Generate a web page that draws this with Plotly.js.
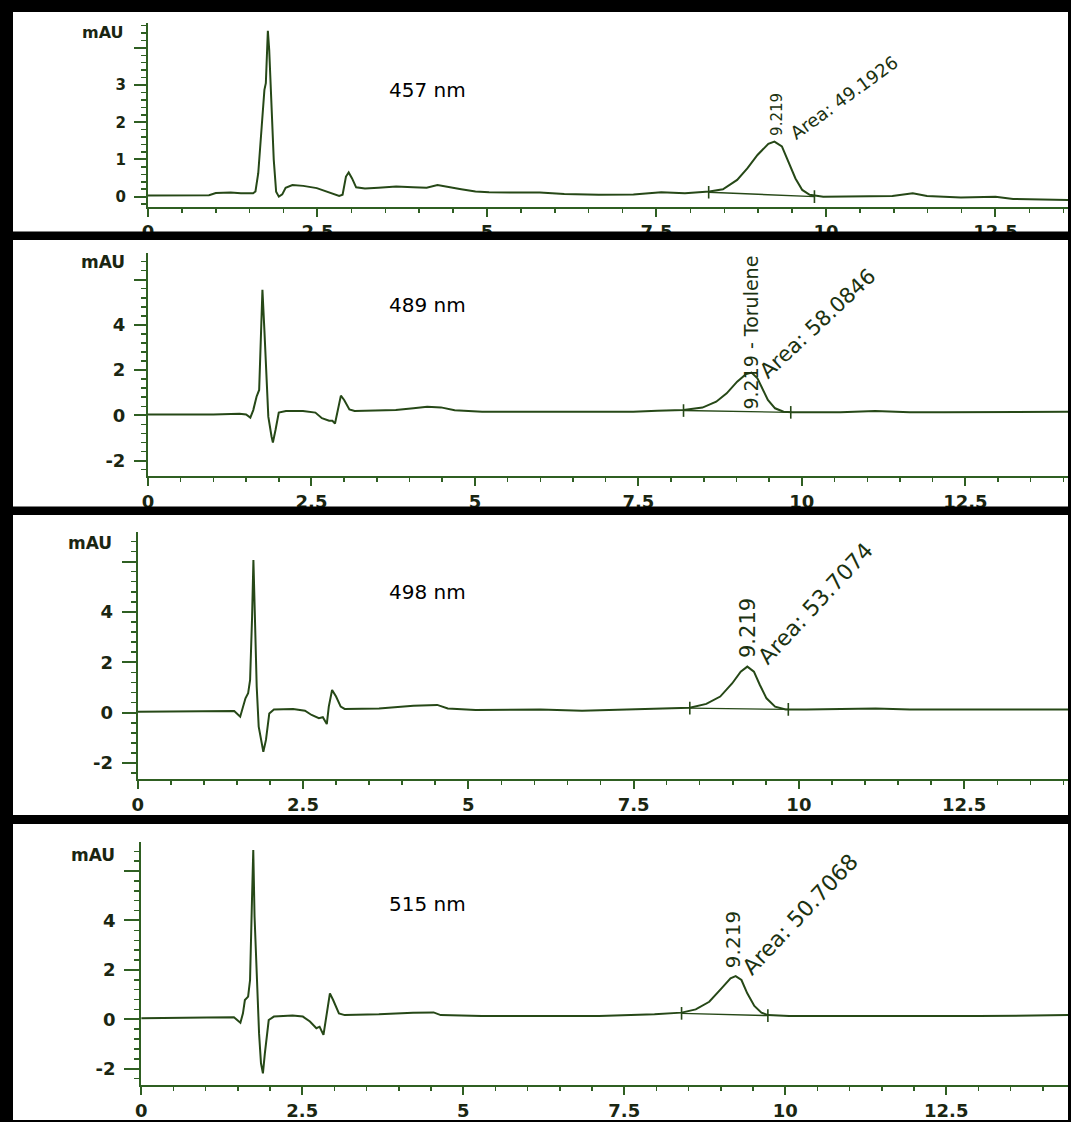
<!DOCTYPE html>
<html>
<head>
<meta charset="utf-8">
<script src="https://cdn.plot.ly/plotly-3.0.1.min.js"></script>
<style>html,body{margin:0;padding:0;background:#fff;}#chart{width:1071px;height:1122px;}</style>
</head>
<body>
<div id="chart"></div>
<script>
// ---------- data (retention time in min, absorbance in mAU) ----------
const t457 = [0,0.5,0.9,1.0,1.22,1.37,1.55,1.585,1.626,1.677,1.717,1.738,1.768,1.788,1.819,1.855,1.89,1.93,1.98,2.03,2.13,2.29,2.49,2.69,2.82,2.87,2.92,2.96,3.01,3.07,3.2,3.4,3.66,3.91,4.11,4.27,4.42,4.62,4.83,5.03,5.43,5.78,6.14,6.65,7.16,7.57,7.92,8.28,8.48,8.69,8.84,8.99,9.15,9.24,9.35,9.45,9.55,9.65,9.76,9.96,10.47,10.98,11.28,11.49,11.99,12.5,12.76,13.27,13.6];
const a457 = [0.03,0.03,0.04,0.10,0.11,0.09,0.09,0.14,0.63,1.88,2.87,3.05,4.46,3.94,2.33,0.99,0.13,0.0,0.06,0.24,0.31,0.29,0.23,0.11,0.02,0.05,0.54,0.65,0.49,0.25,0.22,0.24,0.27,0.25,0.24,0.31,0.27,0.20,0.14,0.12,0.11,0.11,0.07,0.05,0.06,0.12,0.09,0.14,0.20,0.45,0.76,1.12,1.42,1.48,1.35,0.94,0.49,0.18,0.05,0.0,0.0,0.02,0.09,0.02,-0.02,0.0,-0.06,-0.09,-0.09];

const t489 = [0,0.5,1.0,1.4,1.5,1.565,1.61,1.66,1.70,1.73,1.75,1.78,1.81,1.84,1.89,1.91,1.95,2.0,2.11,2.37,2.56,2.66,2.77,2.82,2.86,2.9,2.95,3.0,3.08,3.16,3.53,3.79,4.06,4.27,4.48,4.69,5.11,5.64,6.37,6.9,7.42,7.79,8.19,8.48,8.69,8.85,9.01,9.14,9.23,9.32,9.4,9.48,9.59,9.72,9.85,10.59,11.12,11.65,12.17,13.23,14.1];
const a489 = [0.03,0.03,0.04,0.07,0.04,-0.10,0.23,0.82,1.12,3.77,5.55,3.77,1.41,-0.06,-0.95,-1.20,-0.65,0.12,0.19,0.19,0.12,-0.13,-0.24,-0.24,-0.36,0.23,0.87,0.68,0.26,0.19,0.22,0.23,0.31,0.38,0.35,0.22,0.16,0.16,0.13,0.13,0.16,0.20,0.23,0.34,0.60,0.97,1.49,1.81,1.89,1.64,1.12,0.68,0.31,0.16,0.13,0.13,0.19,0.13,0.13,0.13,0.16];

const t498 = [0,0.52,1.04,1.46,1.55,1.59,1.63,1.67,1.70,1.73,1.75,1.77,1.80,1.83,1.88,1.90,1.94,1.99,2.06,2.35,2.53,2.63,2.74,2.80,2.86,2.89,2.94,3.0,3.07,3.13,3.65,4.17,4.53,4.69,5.11,5.73,6.09,6.72,7.4,8.02,8.35,8.6,8.81,8.99,9.12,9.22,9.32,9.41,9.51,9.64,9.8,10.11,11.16,11.68,12.72,14.1];
const a498 = [0.04,0.04,0.07,0.07,-0.16,0.17,0.57,0.77,1.30,3.81,6.06,4.07,1.03,-0.55,-1.35,-1.55,-1.08,-0.03,0.13,0.15,0.08,-0.09,-0.22,-0.18,-0.45,0.24,0.90,0.64,0.24,0.15,0.17,0.28,0.31,0.17,0.11,0.11,0.13,0.08,0.13,0.17,0.20,0.35,0.64,1.16,1.63,1.83,1.63,1.10,0.57,0.24,0.13,0.13,0.17,0.13,0.13,0.13];

const t515 = [0,0.48,1.02,1.44,1.54,1.58,1.61,1.66,1.69,1.72,1.74,1.76,1.80,1.83,1.86,1.89,1.92,1.98,2.06,2.35,2.51,2.62,2.72,2.77,2.83,2.88,2.93,2.98,3.07,3.16,3.69,4.22,4.54,4.65,5.29,6.19,7.11,7.97,8.39,8.61,8.82,9.01,9.15,9.23,9.32,9.41,9.52,9.63,9.73,10.06,11.4,13.0,14.42];
const a515 = [0.04,0.04,0.07,0.08,-0.14,0.24,0.78,0.92,1.59,4.83,6.85,4.16,1.05,-0.57,-1.78,-2.19,-1.38,-0.03,0.11,0.15,0.11,-0.09,-0.36,-0.30,-0.63,0.24,1.05,0.78,0.24,0.17,0.20,0.27,0.28,0.17,0.13,0.13,0.13,0.20,0.27,0.40,0.71,1.25,1.66,1.75,1.59,1.05,0.54,0.27,0.17,0.13,0.13,0.13,0.17];

// integration baselines (start, end)
const bt457 = [8.27, 9.83], ba457 = [0.12, 0.0];
const bt489 = [8.19, 9.83], ba489 = [0.21, 0.13];
const bt498 = [8.35, 9.84], ba498 = [0.18, 0.13];
const bt515 = [8.39, 9.73], ba515 = [0.24, 0.15];

// labels
const wavelengths = ['457 nm', '489 nm', '498 nm', '515 nm'];
const rtLabels = ['9.219', '9.219 - Torulene', '9.219', '9.219'];
const areaLabels = ['Area: 49.1926', 'Area: 58.0846', 'Area: 53.7074', 'Area: 50.7068'];
const xTickVals = [0, 2.5, 5, 7.5, 10, 12.5];
const yTickVals1 = [0, 1, 2, 3, 4];
const yTickText1 = ['0', '1', '2', '3', ''];
const yTickVals2 = [-2, 0, 2, 4, 6];
const yTickText2 = ['-2', '0', '2', '4', ''];

// ---------- layout geometry (pixels) ----------
const W = 1071, H = 1122;
const LINE = '#264817', AXIS = '#2f5f22', TXT = '#1a2612', LBL = '#1b3210';
const panels = [
  {t:t457, a:a457, bt:bt457, ba:ba457, xpx:[148,1068], ypx:[23.3,206.7], xr:[0,13.57], yr:[-0.27,4.66],
   yv:yTickVals1, ytx:yTickText1, ymin:0.2, yfs:15, ylen:12, mAU:{x:126, y:32.3, fs:16},
   nm:{x:387, y:90}, rt:{x:9.28, y:1.57, fs:15}, ar:{x:9.37, y:1.36, fs:18, ang:-36}},
  {t:t489, a:a489, bt:bt489, ba:ba489, xpx:[148,1068], ypx:[253.3,476], xr:[0,14.07], yr:[-2.686,7.168],
   yv:yTickVals2, ytx:yTickText2, ymin:0.4, yfs:18, ylen:12, mAU:{x:127, y:261.7, fs:17},
   nm:{x:387, y:305.5}, rt:{x:9.22, y:0.16, fs:19}, ar:{x:9.23, y:1.3, fs:21, ang:-43}},
  {t:t498, a:a498, bt:bt498, ba:ba498, xpx:[137.7,1068], ypx:[531.7,779.3], xr:[0,14.07], yr:[-2.643,7.183],
   yv:yTickVals2, ytx:yTickText2, ymin:0.4, yfs:18, ylen:14, mAU:{x:114, y:543.3, fs:17},
   nm:{x:387, y:591.7}, rt:{x:9.23, y:2.09, fs:21}, ar:{x:9.27, y:1.6, fs:22, ang:-47}},
  {t:t515, a:a515, bt:bt515, ba:ba515, xpx:[141.2,1068], ypx:[841.7,1085], xr:[0,14.39], yr:[-2.66,7.19],
   yv:yTickVals2, ytx:yTickText2, ymin:0.4, yfs:18, ylen:15, mAU:{x:117, y:855, fs:17},
   nm:{x:387, y:904}, rt:{x:9.2, y:2.0, fs:20}, ar:{x:9.21, y:1.5, fs:22, ang:-46.6}}
];

const traces = [];
const layout = {
  width: W, height: H, margin: {l:0, r:0, t:0, b:0},
  paper_bgcolor: '#ffffff', plot_bgcolor: 'rgba(0,0,0,0)',
  showlegend: false, annotations: [], shapes: []
};

panels.forEach((p, i) => {
  const n = i === 0 ? '' : String(i + 1);
  const xa = 'x' + n, ya = 'y' + n;
  traces.push({x: p.t, y: p.a, xaxis: xa, yaxis: ya, type: 'scatter', mode: 'lines',
               line: {color: LINE, width: 2}, hoverinfo: 'skip'});
  traces.push({x: p.bt, y: p.ba, xaxis: xa, yaxis: ya, type: 'scatter', mode: 'lines+markers',
               line: {color: LINE, width: 1.4},
               marker: {symbol: 'line-ns', size: 9, line: {color: LINE, width: 1.6}}, hoverinfo: 'skip'});
  layout['xaxis' + n] = {
    domain: [p.xpx[0] / W, p.xpx[1] / W], range: p.xr, anchor: ya,
    showline: true, linecolor: AXIS, linewidth: 2, showgrid: false, zeroline: false,
    tickmode: 'array', tickvals: xTickVals, ticks: 'outside', ticklen: 8, tickwidth: 2, tickcolor: AXIS,
    minor: {ticks: 'outside', ticklen: 4, tickwidth: 1.5, tickcolor: AXIS, tick0: 0, dtick: 0.5, showgrid: false},
    tickfont: {family: 'DejaVu Sans', size: 18, color: TXT, weight: 'bold'}, fixedrange: true
  };
  layout['yaxis' + n] = {
    domain: [1 - p.ypx[1] / H, 1 - p.ypx[0] / H], range: p.yr, anchor: xa,
    showline: true, linecolor: AXIS, linewidth: 2, showgrid: false, zeroline: false,
    tickmode: 'array', tickvals: p.yv, ticktext: p.ytx, ticks: 'outside', ticklen: p.ylen, tickwidth: 2, tickcolor: AXIS,
    minor: {ticks: 'outside', ticklen: 5, tickwidth: 1.5, tickcolor: AXIS, tick0: 0, dtick: p.ymin, showgrid: false},
    tickfont: {family: 'DejaVu Sans', size: p.yfs, color: TXT, weight: 'bold'}, ticklabelstandoff: 5, fixedrange: true
  };
  layout.annotations.push(
    {xref: 'paper', yref: 'paper', x: p.mAU.x / W, y: 1 - p.mAU.y / H, xanchor: 'right', yanchor: 'middle',
     text: 'mAU', showarrow: false, font: {family: 'DejaVu Sans', size: p.mAU.fs, color: TXT, weight: 'bold'}},
    {xref: 'paper', yref: 'paper', x: p.nm.x / W, y: 1 - p.nm.y / H, xanchor: 'left', yanchor: 'middle',
     text: wavelengths[i], showarrow: false, font: {family: 'DejaVu Sans', size: 20, color: '#000000'}},
    {xref: xa, yref: ya, x: p.rt.x, y: p.rt.y, xanchor: 'center', yanchor: 'bottom', textangle: -90,
     text: rtLabels[i], showarrow: false, font: {family: 'DejaVu Sans', size: p.rt.fs, color: LBL}},
    {xref: xa, yref: ya, x: p.ar.x, y: p.ar.y, xanchor: 'left', yanchor: 'bottom', textangle: p.ar.ang,
     text: areaLabels[i], showarrow: false, font: {family: 'DejaVu Sans', size: p.ar.fs, color: LBL}}
  );
});

// black frame and separators (pixels)
function band(x0, x1, y0, y1) {
  layout.shapes.push({type: 'rect', xref: 'paper', yref: 'paper', layer: 'above',
    x0: x0 / W, x1: x1 / W, y0: 1 - y1 / H, y1: 1 - y0 / H, fillcolor: '#000000', line: {width: 0}});
}
band(0, W, 0, 12);
band(0, W, 231.5, 240);
band(0, W, 506.5, 515);
band(0, W, 815, 824);
band(0, W, 1120, H);
band(0, 13, 0, H);
band(1068, W, 0, H);

Plotly.newPlot('chart', traces, layout, {displayModeBar: false, staticPlot: true});
</script>
</body>
</html>
